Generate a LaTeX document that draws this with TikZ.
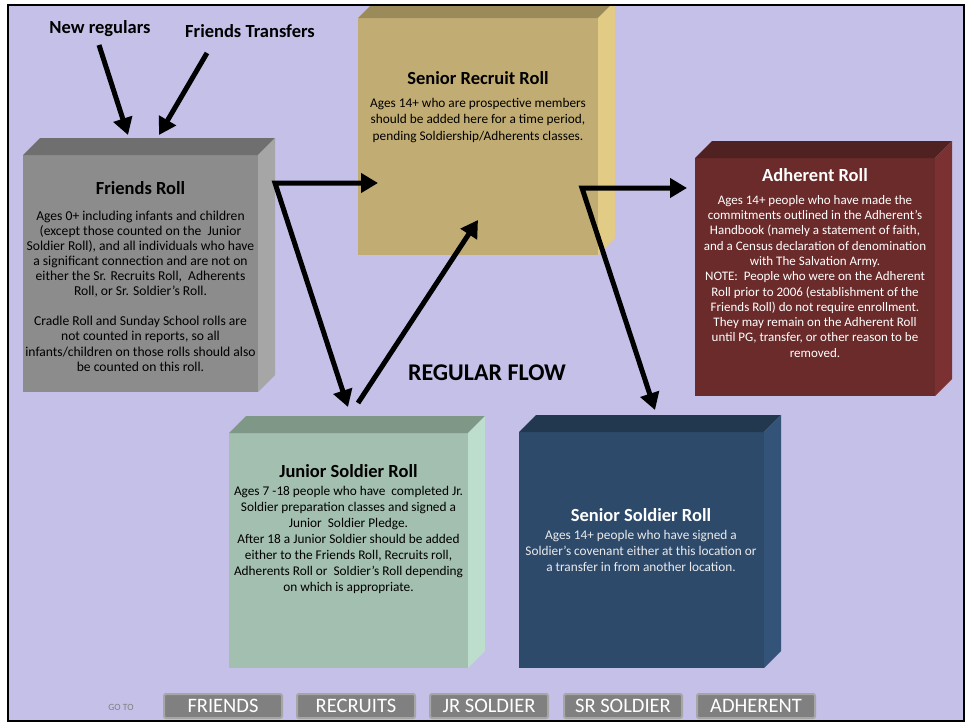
\documentclass[tikz,border=0pt]{standalone}
\usepackage{fontspec}
\setmainfont{Carlito}
\usetikzlibrary{arrows.meta}
\definecolor{bg}{RGB}{196,192,232}
\definecolor{frF}{RGB}{140,140,140}\definecolor{frT}{RGB}{111,111,111}\definecolor{frS}{RGB}{166,166,166}
\definecolor{reF}{RGB}{193,173,116}\definecolor{reT}{RGB}{155,138,90}\definecolor{reS}{RGB}{226,203,132}
\definecolor{adF}{RGB}{107,43,43}\definecolor{adT}{RGB}{79,33,33}\definecolor{adS}{RGB}{123,49,49}
\definecolor{juF}{RGB}{163,191,176}\definecolor{juT}{RGB}{126,151,135}\definecolor{juS}{RGB}{189,222,204}
\definecolor{soF}{RGB}{45,74,107}\definecolor{soT}{RGB}{34,56,79}\definecolor{soS}{RGB}{51,83,121}
\definecolor{btn}{RGB}{128,128,128}\definecolor{btnb}{RGB}{166,166,166}
\newcommand\dep{17}
\newcommand\rollbox[8]{%
  \node[face, fill=#6, minimum width=#4pt, minimum height=#5pt, anchor=north west] (#1) at (#2,#3) {};
  \fill[#7] (#1.north west) -- ++(\dep,-\dep) -- ([shift={(\dep,-\dep)}]#1.north east) -- (#1.north east) -- cycle;
  \fill[#8] (#1.north east) -- ++(\dep,-\dep) -- ([shift={(\dep,-\dep)}]#1.south east) -- (#1.south east) -- cycle;
}
\begin{document}
\begin{tikzpicture}[x=1pt,y=-1pt,
  face/.style={draw=none, inner sep=0pt, outer sep=0pt},
  rolltitle/.style={font=\bfseries\fontsize{18.5}{21}\selectfont, inner sep=0pt},
  body/.style={align=center, inner sep=0pt, anchor=north},
  lbl/.style={font=\bfseries\fontsize{18.5}{21}\selectfont, inner sep=0pt},
  arr/.style={line width=5pt, -{Triangle[length=17pt,width=19pt]}},
  arr2/.style={line width=5pt, line join=miter, {Triangle[length=17pt,width=19pt]}-{Triangle[length=17pt,width=19pt]}},
  btnbox/.style={draw=btnb, line width=2pt, fill=btn, rounded corners=2pt, minimum width=118pt, minimum height=24pt, inner sep=0pt, text=white, font=\fontsize{20.5}{22}\selectfont},
]
\useasboundingbox (0,0) rectangle (969,723);
\fill[white] (0,0) rectangle (969,723);
\fill[bg] (8,5) rectangle (964,721);
\begin{scope}
\clip (8,5) rectangle (964,721);
\rollbox{friends}{23}{155}{235}{237}{frF}{frT}{frS}
\rollbox{recruit}{358}{18}{240}{237}{reF}{reT}{reS}
\rollbox{adherent}{695}{158}{240}{238}{adF}{adT}{adS}
\rollbox{junior}{229}{433}{239}{235}{juF}{juT}{juS}
\rollbox{soldier}{519}{432}{245}{236}{soF}{soT}{soS}
\end{scope}
\draw[line width=2.5pt] (8,5) rectangle (964,721);

% titles and bodies
\node[rolltitle] (friendsT) at (140.5,188) {Friends Roll};
\node[body, font=\fontsize{13.6}{15.1}\selectfont] (friendsB) at (140.5,210.5) {Ages 0+ including infants and children\\(except those counted on the \ Junior\\Soldier Roll), and all individuals who have\\a significant connection and are not on\\either the Sr. Recruits Roll, \ Adherents\\Roll, or Sr. Soldier’s Roll.\\[15.1pt]Cradle Roll and Sunday School rolls are\\not counted in reports, so all\\infants/children on those rolls should also\\be counted on this roll.};

\node[rolltitle] (recruitT) at (478,78) {Senior Recruit Roll};
\node[body, font=\fontsize{13.3}{16.6}\selectfont] (recruitB) at (478,97.7) {Ages 14+ who are prospective members\\should be added here for a time period,\\pending Soldiership/Adherents classes.};

\node[rolltitle, text=white] (adherentT) at (815,175) {Adherent Roll};
\node[body, text=white, font=\fontsize{13}{15.3}\selectfont] (adherentB) at (815,195) {Ages 14+ people who have made the\\commitments outlined in the Adherent’s\\Handbook (namely a statement of faith,\\and a Census declaration of denomination\\with The Salvation Army.\\NOTE: \ People who were on the Adherent\\Roll prior to 2006 (establishment of the\\Friends Roll) do not require enrollment.\\They may remain on the Adherent Roll\\until PG, transfer, or other reason to be\\removed.};

\node[rolltitle] (juniorT) at (348.5,471) {Junior Soldier Roll};
\node[body, font=\fontsize{13.3}{16}\selectfont] (juniorB) at (348.5,485.6) {Ages 7 -18 people who have \ completed Jr.\\Soldier preparation classes and signed a\\Junior \ Soldier Pledge.\\After 18 a Junior Soldier should be added\\either to the Friends Roll, Recruits roll,\\Adherents Roll or \ Soldier’s Roll depending\\on which is appropriate.};

\node[rolltitle, text=white] (soldierT) at (641,515) {Senior Soldier Roll};
\node[body, text=white!92!black, font=\fontsize{13.3}{16}\selectfont] (soldierB) at (641,529.7) {Ages 14+ people who have signed a\\Soldier’s covenant either at this location or\\a transfer in from another location.};

% labels
\node[lbl] (newreg) at (100,29) {New regulars};
\node[lbl] (ftrans) at (250,31) {Friends Transfers};
\node[font=\bfseries\fontsize{24}{28}\selectfont, inner sep=0pt] (flow) at (487,373) {REGULAR FLOW};

% arrow coordinates
\coordinate (nrS) at (99,45);   \coordinate (nrE) at (128,135);
\coordinate (ftS) at (207,53);  \coordinate (ftE) at (159,135);
\coordinate (c1) at (275,183);  \coordinate (c1r) at (378,183); \coordinate (c1j) at (348,407);
\coordinate (jS) at (358,403);  \coordinate (jE) at (478,220);
\coordinate (c2) at (582,188);  \coordinate (c2a) at (687,188); \coordinate (c2s) at (655,410);

\draw[arr] (nrS) -- (nrE);
\draw[arr] (ftS) -- (ftE);
\draw[arr2] (c1r) -- (c1) -- (c1j);
\draw[arr] (jS) -- (jE);
\draw[arr2] (c2a) -- (c2) -- (c2s);

% buttons
\node[text=btn, font=\fontsize{9.5}{10}\selectfont, inner sep=0pt] (goto) at (121,707) {GO TO};
\node[btnbox] (bF) at (223,706) {FRIENDS};
\node[btnbox] (bR) at (356,706) {RECRUITS};
\node[btnbox] (bJ) at (489,706) {JR SOLDIER};
\node[btnbox] (bS) at (623,706) {SR SOLDIER};
\node[btnbox] (bA) at (756,706) {ADHERENT};
\end{tikzpicture}
\end{document}
